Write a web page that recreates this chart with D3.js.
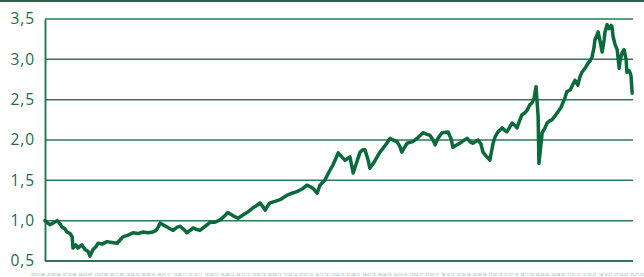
<!DOCTYPE html>
<html>
  <head>
    <meta charset="utf-8">
    <title>Index</title>
    <script src="https://d3js.org/d3.v7.min.js"></script>
    <style>
      body { margin: 0; background: #fff; }
    </style>
  </head>
  <body>
    <script>
      // Dimensions
      var W = 644, H = 277;
      var margin = {top: 19, right: 11, bottom: 16, left: 45};

      // Data: decimal year and index value
      var years = [
        2008.00, 2008.07, 2008.12, 2008.20, 2008.30, 2008.37, 2008.42, 2008.49, 2008.54, 2008.62,
        2008.67, 2008.69, 2008.76, 2008.81, 2008.91, 2008.99, 2009.06, 2009.11, 2009.18, 2009.26,
        2009.31, 2009.41, 2009.53, 2009.65, 2009.78, 2009.85, 2009.92, 2010.05, 2010.17, 2010.29,
        2010.42, 2010.54, 2010.66, 2010.74, 2010.79, 2010.84, 2010.91, 2011.01, 2011.08, 2011.16,
        2011.26, 2011.33, 2011.43, 2011.50, 2011.58, 2011.65, 2011.75, 2011.82, 2011.95, 2012.07,
        2012.19, 2012.32, 2012.41, 2012.51, 2012.64, 2012.76, 2012.88, 2012.98, 2013.06, 2013.13,
        2013.23, 2013.30, 2013.38, 2013.43, 2013.50, 2013.55, 2013.67, 2013.80, 2013.89, 2013.99,
        2014.09, 2014.21, 2014.29, 2014.36, 2014.46, 2014.54, 2014.61, 2014.71, 2014.78, 2014.90,
        2015.00, 2015.10, 2015.18, 2015.23, 2015.30, 2015.40, 2015.52, 2015.60, 2015.67, 2015.77,
        2015.84, 2015.89, 2015.97, 2016.01, 2016.11, 2016.19, 2016.26, 2016.34, 2016.43, 2016.51,
        2016.58, 2016.68, 2016.75, 2016.80, 2016.88, 2016.93, 2017.00, 2017.07, 2017.20, 2017.32,
        2017.42, 2017.49, 2017.57, 2017.62, 2017.69, 2017.79, 2017.94, 2018.01, 2018.06, 2018.16,
        2018.23, 2018.31, 2018.41, 2018.48, 2018.55, 2018.68, 2018.75, 2018.80, 2018.88, 2018.92,
        2018.97, 2019.05, 2019.10, 2019.17, 2019.27, 2019.34, 2019.39, 2019.47, 2019.52, 2019.59,
        2019.64, 2019.71, 2019.76, 2019.84, 2019.89, 2019.96, 2020.01, 2020.06, 2020.11, 2020.13,
        2020.16, 2020.18, 2020.21, 2020.26, 2020.33, 2020.38, 2020.45, 2020.50, 2020.58, 2020.65,
        2020.72, 2020.77, 2020.82, 2020.87, 2020.95, 2020.99, 2021.07, 2021.14, 2021.19, 2021.24,
        2021.32, 2021.39, 2021.44, 2021.49, 2021.54, 2021.56, 2021.61, 2021.64, 2021.69, 2021.74,
        2021.79, 2021.81, 2021.86, 2021.91, 2021.96, 2021.98, 2022.01, 2022.06, 2022.11, 2022.16,
        2022.18, 2022.23, 2022.28, 2022.33, 2022.35, 2022.40, 2022.43, 2022.45, 2022.48
      ];
      var values = [
        1.00, 0.97, 0.95, 0.97, 1.00, 0.96, 0.92, 0.90, 0.86, 0.84,
        0.80, 0.66, 0.70, 0.66, 0.70, 0.64, 0.62, 0.56, 0.64, 0.68,
        0.72, 0.71, 0.74, 0.73, 0.72, 0.76, 0.80, 0.82, 0.85, 0.84,
        0.86, 0.85, 0.86, 0.88, 0.92, 0.97, 0.95, 0.92, 0.90, 0.88,
        0.92, 0.93, 0.89, 0.85, 0.88, 0.91, 0.89, 0.88, 0.93, 0.98,
        0.98, 1.01, 1.05, 1.10, 1.06, 1.03, 1.07, 1.10, 1.13, 1.16,
        1.19, 1.22, 1.17, 1.13, 1.19, 1.22, 1.24, 1.26, 1.29, 1.32,
        1.34, 1.36, 1.38, 1.40, 1.44, 1.42, 1.40, 1.34, 1.44, 1.50,
        1.60, 1.69, 1.78, 1.84, 1.80, 1.75, 1.79, 1.59, 1.70, 1.85,
        1.88, 1.88, 1.75, 1.65, 1.72, 1.79, 1.85, 1.90, 1.96, 2.02,
        2.00, 1.98, 1.92, 1.85, 1.92, 1.96, 1.97, 1.98, 2.03, 2.09,
        2.07, 2.06, 2.00, 1.94, 2.02, 2.09, 2.10, 2.02, 1.91, 1.94,
        1.96, 1.99, 2.02, 1.98, 1.96, 2.00, 1.95, 1.85, 1.80, 1.78,
        1.75, 1.96, 2.04, 2.10, 2.15, 2.12, 2.10, 2.17, 2.21, 2.18,
        2.15, 2.25, 2.31, 2.34, 2.37, 2.44, 2.46, 2.52, 2.66, 2.50,
        2.30, 1.71, 1.85, 2.09, 2.15, 2.21, 2.24, 2.25, 2.30, 2.35,
        2.40, 2.46, 2.52, 2.60, 2.62, 2.66, 2.74, 2.68, 2.78, 2.84,
        2.89, 2.95, 2.98, 3.03, 3.15, 3.24, 3.30, 3.34, 3.22, 3.09,
        3.25, 3.34, 3.43, 3.38, 3.42, 3.41, 3.28, 3.18, 3.12, 2.89,
        2.98, 3.08, 3.12, 3.00, 2.84, 2.86, 2.83, 2.80, 2.58
      ];
      var yTicks = [0.5, 1.0, 1.5, 2.0, 2.5, 3.0, 3.5];
      var dateLabels = [
        "02.01.08", "20.05.08", "07.10.08", "24.02.09", "13.07.09", "30.11.09", "19.04.10",
        "06.09.10", "24.01.11", "13.06.11", "31.10.11", "19.03.12", "06.08.12", "24.12.12",
        "13.05.13", "30.09.13", "17.02.14", "07.07.14", "24.11.14", "13.04.15", "31.08.15",
        "18.01.16", "06.06.16", "24.10.16", "13.03.17", "31.07.17", "18.12.17", "07.05.18",
        "24.09.18", "11.02.19", "01.07.19", "18.11.19", "06.04.20", "24.08.20", "11.01.21",
        "31.05.21", "18.10.21", "07.03.22", "25.07.22"
      ];

      var data = years.map(function(d, i) { return {t: d, v: values[i]}; });

      var green = "#0b6a3b";
      var gridColor = "#2c7858";
      var labelColor = "#1f6b4c";

      var svg = d3.select("body").append("svg")
                  .attr("width", W)
                  .attr("height", H);

      // Scales
      var x = d3.scaleLinear()
                .domain([2008, 2022.5])
                .range([margin.left, W - margin.right]);
      var y = d3.scaleLinear()
                .domain([0.5, 3.5])
                .range([H - margin.bottom, margin.top]);
      var xl = d3.scalePoint()
                 .domain(dateLabels)
                 .range([38, 637]);

      // Top rule
      svg.append("line")
         .attr("x1", 0).attr("x2", W)
         .attr("y1", 1).attr("y2", 1)
         .attr("stroke", "#1d6b46")
         .attr("stroke-width", 2);

      // Gridlines
      svg.append("g")
         .selectAll("line")
         .data(yTicks.slice(1))
         .enter()
         .append("line")
         .attr("x1", margin.left).attr("x2", W - margin.right)
         .attr("y1", function(d) { return y(d); })
         .attr("y2", function(d) { return y(d); })
         .attr("stroke", gridColor)
         .attr("stroke-width", 1.5);

      // Y axis
      var yAxis = svg.append("g")
         .attr("transform", "translate(" + margin.left + ",0)")
         .call(d3.axisLeft(y)
                 .tickValues(yTicks)
                 .tickSize(0)
                 .tickPadding(10)
                 .tickFormat(function(d) { return d3.format(".1f")(d).replace(".", ","); }));
      yAxis.select(".domain")
           .attr("stroke", gridColor)
           .attr("stroke-width", 2);
      yAxis.selectAll("text")
           .attr("fill", labelColor)
           .style("font-family", "'Open Sans', sans-serif")
           .style("font-size", "15.5px")
           .style("letter-spacing", "0.9px");

      // X axis (bottom line)
      svg.append("line")
         .attr("x1", margin.left).attr("x2", W - margin.right)
         .attr("y1", y(0.5)).attr("y2", y(0.5))
         .attr("stroke", gridColor)
         .attr("stroke-width", 2);

      // Tiny date labels
      svg.append("g")
         .selectAll("text")
         .data(dateLabels)
         .enter()
         .append("text")
         .attr("x", function(d) { return xl(d); })
         .attr("y", 276)
         .attr("text-anchor", "middle")
         .attr("fill", "#6f9f88")
         .style("font-family", "'Open Sans', sans-serif")
         .style("font-size", "3.4px")
         .text(function(d) { return d; });

      // Line
      var line = d3.line()
                   .x(function(d) { return x(d.t); })
                   .y(function(d) { return y(d.v); });

      svg.append("path")
         .datum(data)
         .attr("fill", "none")
         .attr("stroke", green)
         .attr("stroke-width", 3.5)
         .attr("stroke-linejoin", "round")
         .attr("stroke-linecap", "round")
         .attr("d", line);
    </script>
  </body>
</html>
